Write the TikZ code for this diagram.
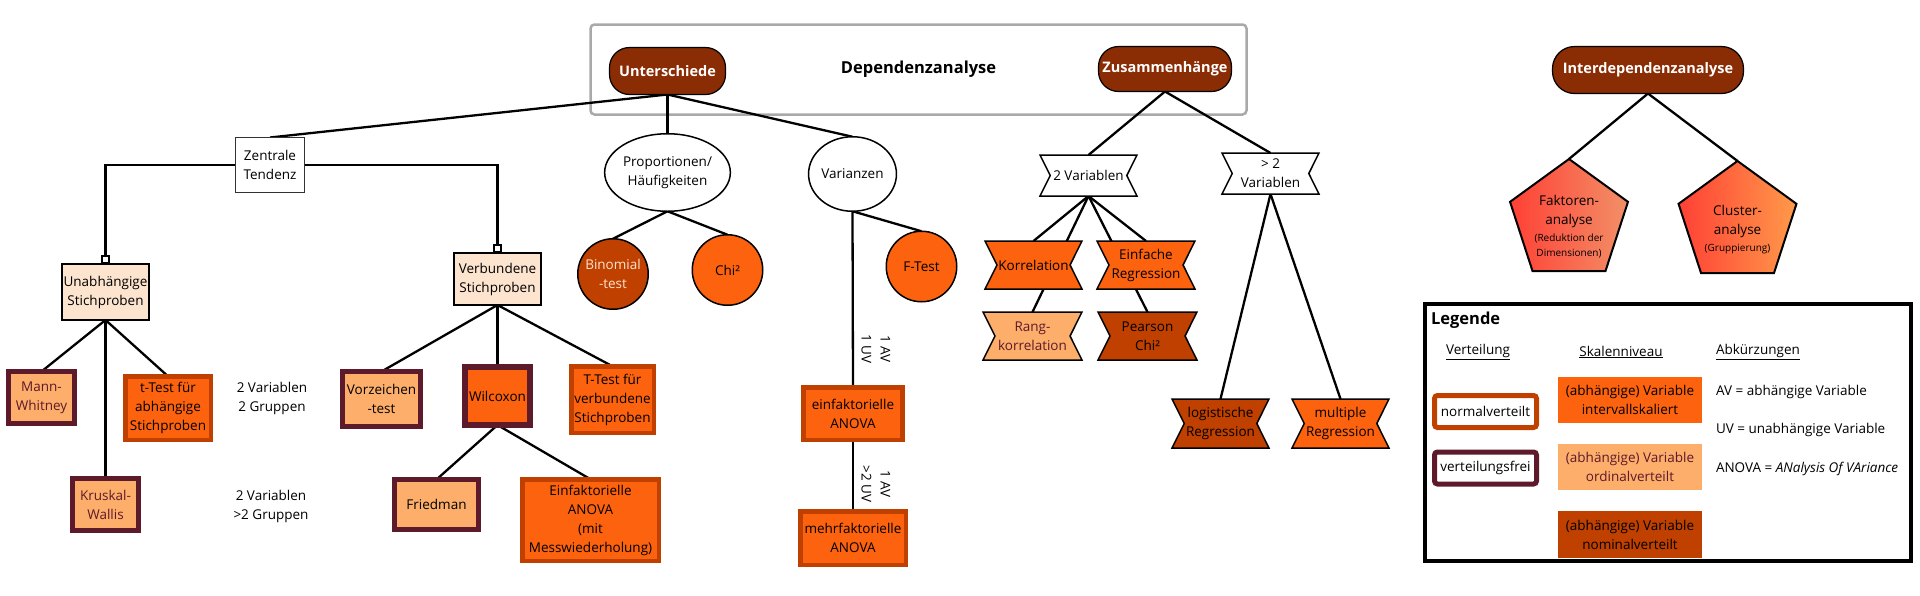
\documentclass[tikz,border=0pt]{standalone}
\usepackage{fontspec}
\setmainfont{Open Sans}
\usetikzlibrary{shapes.geometric,shapes.symbols,arrows.meta}
\definecolor{cDark}{HTML}{8A2C04}
\definecolor{cOr}{HTML}{FD620F}
\definecolor{cLi}{HTML}{FDAE6B}
\definecolor{cNo}{HTML}{C04000}
\definecolor{cMa}{HTML}{5C1A2B}
\definecolor{cPe}{HTML}{FDE4CF}
\definecolor{cGr}{HTML}{A9A9A9}
\definecolor{cRed}{HTML}{FF4035}
\definecolor{cSal}{HTML}{F29068}
\definecolor{cOr2}{HTML}{FF9A4A}
\pgfdeclarelayer{frame}
\pgfdeclarelayer{edges}
\pgfsetlayers{frame,edges,main}
\begin{document}
\begin{tikzpicture}[x=1pt,y=-1pt,
  every node/.style={font=\fontsize{13.5}{19}\selectfont, align=center, inner sep=0pt, outer sep=0pt},
  pill/.style={rectangle, rounded corners=20pt, fill=cDark, draw=black, line width=1.2pt, text=white, font=\fontsize{14.5}{17}\selectfont\bfseries},
  plainbox/.style={rectangle, draw=black!80, line width=1.3pt, fill=white},
  peachbox/.style={rectangle, draw=black, line width=1.8pt, fill=cPe},
  ell/.style={ellipse, draw=black, line width=1.5pt, fill=white},
  circ/.style={circle, draw=black, line width=1.5pt, minimum size=70.5pt},
  freebox/.style={rectangle, draw=cMa, line width=5pt, fill=cLi},
  normbox/.style={rectangle, draw=cNo, line width=4.5pt, fill=cOr},
  banner/.style={signal, signal to=nowhere, signal from=west and east, signal pointer angle=127, draw=black, line width=1.5pt},
  pent/.style={regular polygon, regular polygon sides=5, draw=black, line width=2pt, minimum size=124pt},
  conn/.style={line width=2.3pt, draw=black},
  sq/.style={-{Square[open,length=9pt,width=9pt]}},
  small/.style={font=\fontsize{10}{14}\selectfont}
]
\useasboundingbox (0,0) rectangle (1920,595);

% frame
\begin{pgfonlayer}{frame}
\node[draw=cGr, line width=2.5pt, rounded corners=4pt, minimum width=656pt, minimum height=90pt, font=\fontsize{16.5}{19}\selectfont\bfseries] (D) at (918.5,69.5) {Dependenzanalyse};
\end{pgfonlayer}

% top level
\node[pill, minimum width=116pt, minimum height=47pt] (U) at (667.5,71) {Unterschiede};
\node[pill, minimum width=133pt, minimum height=45pt] (ZU) at (1165,69) {Zusammenhänge};
\node[pill, rounded corners=22pt, minimum width=191pt, minimum height=47pt] (I) at (1648,70) {Interdependenzanalyse};

% Unterschiede branch
\node[plainbox, minimum width=69pt, minimum height=55pt] (Z) at (270,165) {Zentrale\\Tendenz};
\node[peachbox, minimum width=87pt, minimum height=56pt] (UA) at (105.5,292) {Unabhängige\\Stichproben};
\node[peachbox, minimum width=87pt, minimum height=52pt] (VB) at (497.5,279) {Verbundene\\Stichproben};

\node[freebox, text=cMa, minimum width=66pt, minimum height=52pt] (MW) at (41.5,397.5) {Mann-\\Whitney};
\node[normbox, minimum width=85.5pt, minimum height=63.5pt] (TT) at (168,408) {t-Test für\\abhängige\\Stichproben};
\node[freebox, text=cMa, minimum width=66pt, minimum height=52pt] (KW) at (105.5,504.5) {Kruskal-\\Wallis};

\node[freebox, minimum width=78pt, minimum height=55pt] (VZ) at (381.5,399) {Vorzeichen\\-test};
\node[freebox, fill=cOr, line width=6pt, minimum width=65pt, minimum height=58pt] (WX) at (497.5,396) {Wilcoxon};
\node[normbox, minimum width=82.5pt, minimum height=66.5pt] (TV) at (612.5,399.5) {T-Test für\\verbundene\\Stichproben};
\node[freebox, minimum width=84pt, minimum height=50pt] (FR) at (436.5,504.5) {Friedman};
\node[normbox, minimum width=136.5pt, minimum height=81.5pt] (EA) at (590.5,520) {Einfaktorielle\\ANOVA\\(mit\\Messwiederholung)};

\node (G1) at (272,398) {2 Variablen\\2 Gruppen};
\node (G2) at (271,506) {2 Variablen\\>2 Gruppen};

\node[ell, minimum width=113.5pt, minimum height=77.5pt] (P) at (667.5,172.5) {Proportionen/\\Häufigkeiten};
\node[ell, minimum width=79.5pt, minimum height=74.5pt] (V) at (852.5,174) {Varianzen};
\node[circ, fill=cNo, text=cPe] (BI) at (613,274) {Binomial\\-test};
\node[circ, fill=cOr] (CH) at (727.5,270) {Chi²};
\node[circ, fill=cOr] (FT) at (921.5,266.5) {F-Test};

\node[normbox, minimum width=99pt, minimum height=52.5pt] (A1) at (853,413.5) {einfaktorielle\\ANOVA};
\node[normbox, minimum width=105.5pt, minimum height=53.5pt] (A2) at (853,538) {mehrfaktorielle\\ANOVA};
\node[rotate=-90] (L1) at (876,349) {1 AV\\1 UV};
\node[rotate=-90] (L2) at (876,484) {1 AV\\>2 UV};

% Zusammenhaenge branch
\node[banner, fill=white, minimum width=97pt, minimum height=41pt] (V2) at (1088.5,175.5) {2 Variablen};
\node[banner, fill=white, minimum width=97pt, minimum height=41pt] (VM) at (1270.5,173.5) {> 2\\Variablen};
\node[banner, fill=cOr, minimum width=97pt, minimum height=48pt] (KO) at (1033.5,265) {Korrelation};
\node[banner, fill=cOr, minimum width=98pt, minimum height=48pt] (ER) at (1146,265) {Einfache\\Regression};
\node[banner, fill=cLi, text=cMa, minimum width=99pt, minimum height=48pt] (RK) at (1032.5,336) {Rang-\\korrelation};
\node[banner, fill=cNo, minimum width=99pt, minimum height=48pt] (PC) at (1147.5,336) {Pearson\\Chi²};
\node[banner, fill=cNo, minimum width=97pt, minimum height=49pt] (LR) at (1220.5,423.5) {logistische\\Regression};
\node[banner, fill=cOr, minimum width=97pt, minimum height=49pt] (MR) at (1340.5,423.5) {multiple\\Regression};

% Interdependenz branch
\node[pent, left color=cRed, right color=cSal] (F) at (1569,221) {};
\node[pent, left color=cRed, right color=cOr2] (C) at (1737.5,223) {};
\node (Ft) at (1569,227) {Faktoren-\\analyse\\[-2pt]{\fontsize{10}{14}\selectfont (Reduktion der}\\[-4pt]{\fontsize{10}{14}\selectfont Dimensionen)}};
\node (Ct) at (1737.5,230) {Cluster-\\analyse\\[-2pt]{\fontsize{10}{14}\selectfont (Gruppierung)}};

% Legend
\node[draw=black, line width=4pt, minimum width=486pt, minimum height=257pt] (L) at (1668,432.5) {};
\node[anchor=west, font=\fontsize{16.5}{19}\selectfont\bfseries] (Lt) at (1431,320) {Legende};
\node (Lv) at (1478,352) {\underline{Verteilung}};
\node (Ls) at (1621,352) {\underline{Skalenniveau}};
\node[anchor=west] (La) at (1716,352) {\underline{Abkürzungen}};
\node[draw=cNo, line width=5pt, rounded corners=3pt, fill=white, minimum width=102pt, minimum height=32pt] (Ln) at (1485.5,411.5) {normalverteilt};
\node[draw=cMa, line width=5pt, rounded corners=3pt, fill=white, minimum width=102pt, minimum height=32pt] (Lf) at (1485.5,468) {verteilungsfrei};
\node[fill=cOr, minimum width=144pt, minimum height=46pt] (Li) at (1630,400) {(abhängige) Variable\\intervallskaliert};
\node[fill=cLi, text=cMa, minimum width=144pt, minimum height=46pt] (Lo) at (1630,467) {(abhängige) Variable\\ordinalverteilt};
\node[fill=cNo, minimum width=144pt, minimum height=47pt] (Lno) at (1630,534.5) {(abhängige) Variable\\nominalverteilt};
\node[anchor=west] (Lav) at (1716,392) {AV = abhängige Variable};
\node[anchor=west] (Luv) at (1716,430) {UV = unabhängige Variable};
\node[anchor=west] (Lan) at (1716,469) {ANOVA = \textit{ANalysis Of VAriance}};

% connectors
\begin{pgfonlayer}{edges}
\draw[conn] (U.south) -- (Z.north);
\draw[conn] (U.south) -- (P.north);
\draw[conn] (U.south) -- (V.north);
\draw[conn, sq] (Z.west) -| (UA.north);
\draw[conn, sq] (Z.east) -| (VB.north);
\draw[conn] (UA.south) -- (MW.north);
\draw[conn] (UA.south) -- (KW.north);
\draw[conn] (UA.south) -- (TT.north);
\draw[conn] (VB.south) -- (VZ.north);
\draw[conn] (VB.south) -- (WX.north);
\draw[conn] (VB.south) -- (TV.north);
\draw[conn] (WX.south) -- (FR.north);
\draw[conn] (WX.south) -- (EA.north);
\draw[conn] (P.south) -- (BI.north);
\draw[conn] (P.south) -- (CH.north);
\draw[conn] (V.south) -- (FT.north);
\draw[conn] (V.south) -- (A1.north);
\draw[conn] (A1.south) -- (A2.north);
\draw[conn] (ZU.south) -- (V2.north);
\draw[conn] (ZU.south) -- (VM.north);
\draw[conn] (V2.south) -- (KO.north);
\draw[conn] (V2.south) -- (ER.north);
\draw[conn] (V2.south) -- (RK.north);
\draw[conn] (V2.south) -- (PC.north);
\draw[conn] (VM.south) -- (LR.north);
\draw[conn] (VM.south) -- (MR.north);
\draw[conn] (I.south) -- (F.corner 1);
\draw[conn] (I.south) -- (C.corner 1);
\end{pgfonlayer}
\end{tikzpicture}
\end{document}
